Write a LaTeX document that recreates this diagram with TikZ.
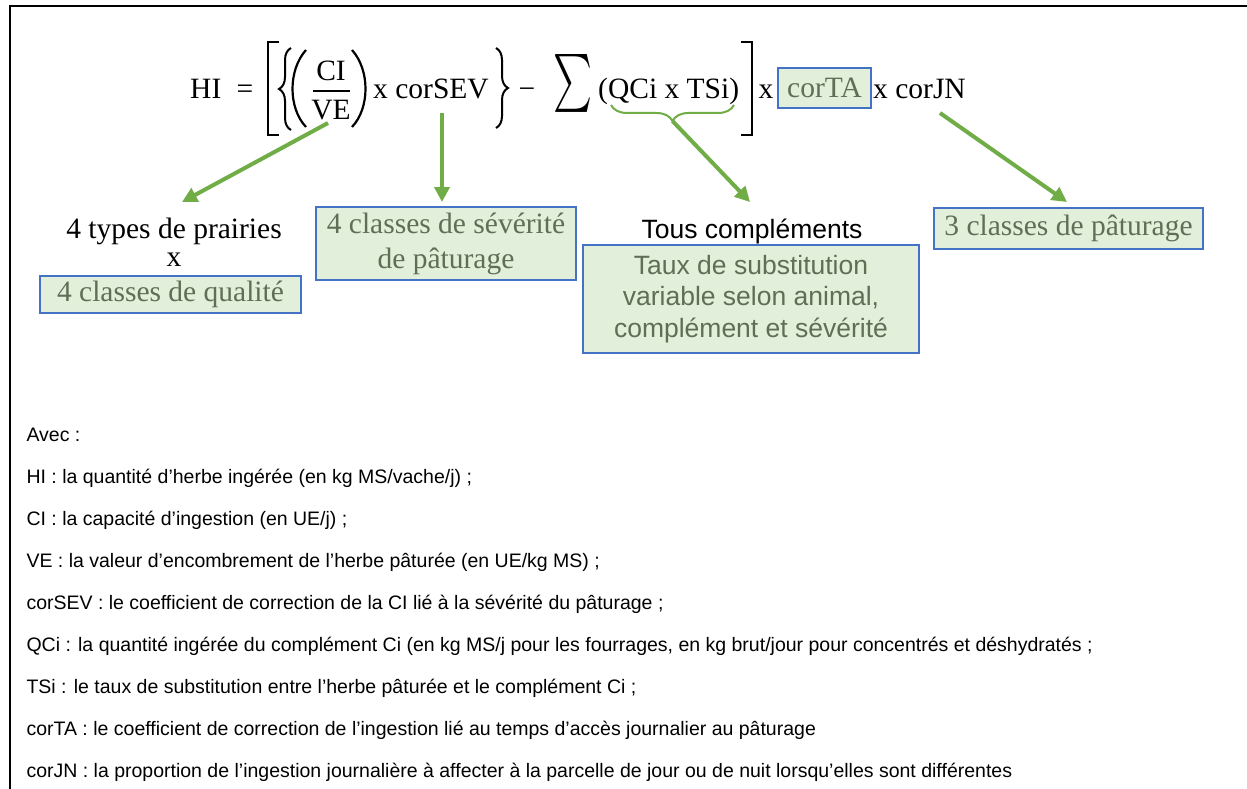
\documentclass[tikz,border=0pt]{standalone}
\usepackage{fontspec}
\setmainfont{Liberation Serif}
\setsansfont{Liberation Sans}
\usepackage{graphicx}
\usetikzlibrary{arrows.meta,decorations.pathreplacing}

\definecolor{vert}{RGB}{112,173,71}
\definecolor{bleu}{RGB}{68,114,196}
\definecolor{vertclair}{RGB}{226,239,218}
\definecolor{gristexte}{RGB}{95,110,85}

\newcommand{\grande}{\fontsize{29.5}{35}\selectfont}
\newcommand{\moyen}{\fontsize{26.5}{31.5}\selectfont\sffamily}
\newcommand{\petit}{\fontsize{19.5}{23}\selectfont\sffamily}

\tikzset{
	fleche/.style={draw=vert, line width=4pt, -{Triangle[length=15pt,width=15pt]}},
	boite/.style={draw=bleu, fill=vertclair, line width=1.3pt, text=gristexte, inner sep=0pt, align=center},
	formule/.style={font=\grande, inner sep=0pt},
	delim/.style={line width=2.2pt},
	accolade/.style={line width=2pt, decorate, decoration={brace, amplitude=12pt}},
}

\begin{document}
\begin{tikzpicture}[x=1pt,y=-1pt]
	\useasboundingbox (0,0) rectangle (1247,789);
	\draw [line width=2.5pt] (10,789) -- (10,6) -- (1247,6);
	% formule
	\node [formule, anchor=base west] (hi) at (190,99) {HI};
	\node [formule, anchor=base] (egal) at (245,99) {=};
	\draw [delim] (279,42) -- (268,42) -- (268,135) -- (279,135);
	\draw [accolade] (291,130) -- (291,48);
	\draw [delim] (306,50) .. controls (288,70) and (288,108) .. (306,127);
	\node [formule, anchor=base] (ci) at (331,81) {CI};
	\draw [line width=1.6pt] (313,91) -- (350,91);
	\node [formule, anchor=base] (ve) at (331,120) {VE};
	\draw [delim] (352,50) .. controls (370,70) and (370,108) .. (352,127);
	\node [formule, anchor=base west] (sev) at (373,99) {x corSEV};
	\draw [accolade] (496,48) -- (496,128);
	\node [formule, anchor=base] (moins) at (527,99) {−};
	\node [formule] (somme) at (573,87.5) {\resizebox*{39pt}{65pt}{$\sum$}};
	\node [formule, anchor=base west] (qcts) at (598,99) {(QCi x TSi)};
	\draw [delim] (741,42) -- (752,42) -- (752,135) -- (741,135);
	\node [formule, anchor=base] (fois1) at (766,99) {x};
	\node [boite, font=\grande, minimum width=93pt, minimum height=40pt] (corta) at (824.5,88) {corTA};
	\node [formule, anchor=base west] (corjn) at (873,99) {x corJN};
	\draw [vert, line width=2pt, decorate, decoration={brace, mirror, amplitude=16pt}] (611,105) -- (734,105);

	% etiquettes
	\node [font=\grande, anchor=base] (prairies) at (174,238) {4 types de prairies};
	\node [font=\grande, anchor=base] (fois2) at (174,266) {x};
	\node [boite, font=\grande, minimum width=261pt, minimum height=37pt] (qualite) at (170.5,294.5) {4 classes de qualité};
	\node [boite, font=\grande, minimum width=260pt, minimum height=73pt] (severite) at (446,243.5) {4 classes de sévérité\\de pâturage};
	\node [font=\moyen, anchor=base] (tous) at (752,238) {Tous compléments};
	\node [boite, font=\moyen, minimum width=336pt, minimum height=108pt] (taux) at (751,299) {Taux de substitution\\variable selon animal,\\complément et sévérité};
	\node [boite, font=\grande, minimum width=269pt, minimum height=41pt] (paturage) at (1068.5,228.5) {3 classes de pâturage};

	\coordinate (d1) at (328,123);
	\coordinate (f1) at (182,202);
	\coordinate (d2) at (442,113);
	\coordinate (f2) at (442,202);
	\coordinate (d3) at (672.5,121);
	\coordinate (f3) at (750,202);
	\coordinate (d4) at (940,113);
	\coordinate (f4) at (1067,202);
	\draw [fleche] (d1) -- (f1);
	\draw [fleche] (d2) -- (f2);
	\draw [fleche] (d3) -- (f3);
	\draw [fleche] (d4) -- (f4);

	% legende
	\node [font=\petit, anchor=base west] (avec) at (23,441) {Avec :};
	\node [font=\petit, anchor=base west] (lhi) at (23,483) {HI : la quantité d’herbe ingérée (en kg MS/vache/j) ;};
	\node [font=\petit, anchor=base west] (lci) at (23,525) {CI : la capacité d’ingestion (en UE/j) ;};
	\node [font=\petit, anchor=base west] (lve) at (23,567) {VE : la valeur d’encombrement de l’herbe pâturée (en UE/kg MS) ;};
	\node [font=\petit, anchor=base west] (lsev) at (23,609) {corSEV : le coefficient de correction de la CI lié à la sévérité du pâturage ;};
	\node [font=\petit, anchor=base west] (lqci) at (23,651) {QCi : la quantité ingérée du complément Ci (en kg MS/j pour les fourrages, en kg brut/jour pour concentrés et déshydratés ;};
	\node [font=\petit, anchor=base west] (ltsi) at (23,693) {TSi : le taux de substitution entre l’herbe pâturée et le complément Ci ;};
	\node [font=\petit, anchor=base west] (lta) at (23,735) {corTA : le coefficient de correction de l’ingestion lié au temps d’accès journalier au pâturage};
	\node [font=\petit, anchor=base west] (ljn) at (23,777) {corJN : la proportion de l’ingestion journalière à affecter à la parcelle de jour ou de nuit lorsqu’elles sont différentes};
\end{tikzpicture}
\end{document}
